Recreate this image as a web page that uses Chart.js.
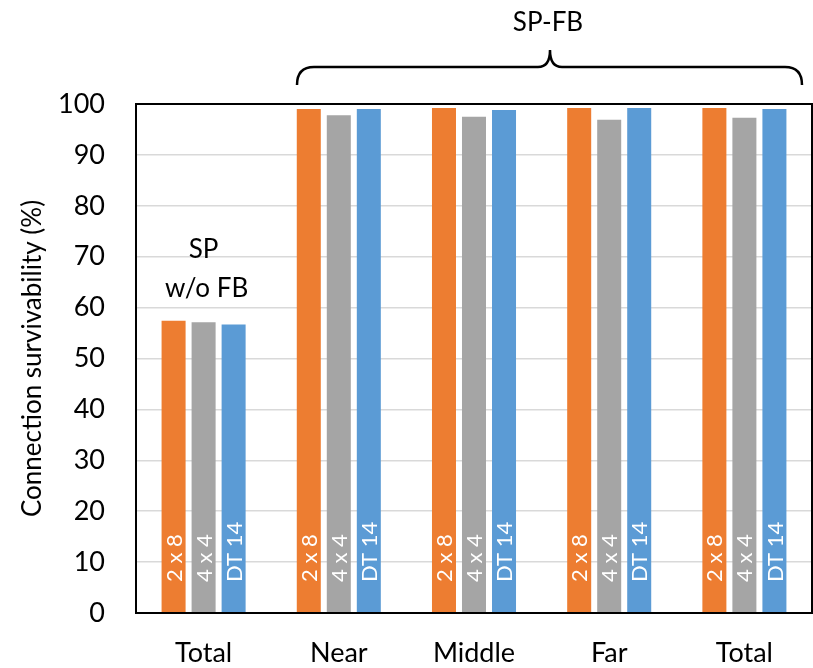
<!DOCTYPE html>
<html lang="en">
<head>
<meta charset="UTF-8">
<title>Connection survivability</title>
<script src="https://cdn.jsdelivr.net/npm/chart.js@4"></script>
<style>
    html, body { margin: 0; padding: 0; background: #fff; }
    #wrap { width: 813px; height: 668px; }
</style>
</head>
<body>
<div id="wrap"><canvas id="chart"></canvas></div>
<script>
// Data
const categories = ['Total', 'Near', 'Middle', 'Far', 'Total'];
const seriesNames = ['2 x 8', '4 x 4', 'DT 14'];
const values2x8 = [57.4, 99.0, 99.2, 99.2, 99.2];
const values4x4 = [57.1, 97.8, 97.5, 96.9, 97.3];
const valuesDT14 = [56.7, 99.0, 98.8, 99.2, 99.0];
const yTicks = [0, 10, 20, 30, 40, 50, 60, 70, 80, 90, 100];

const colors = ['#ED7D31', '#A5A5A5', '#5B9BD5'];
const FONT = 'Lato';

// frame around the plot, labels inside bars, group annotations
const decorations = {
    id: 'decorations',
    afterDatasetsDraw(chart) {
        const ctx = chart.ctx;
        const area = chart.chartArea;

        // series names written up the bars
        ctx.save();
        ctx.fillStyle = '#fff';
        ctx.font = '22px ' + FONT;
        ctx.textAlign = 'left';
        ctx.textBaseline = 'middle';
        chart.data.datasets.forEach((ds, i) => {
            chart.getDatasetMeta(i).data.forEach(bar => {
                ctx.save();
                ctx.translate(bar.x + 1, area.bottom - 31);
                ctx.rotate(-Math.PI / 2);
                ctx.fillText(ds.label, 0, 0);
                ctx.restore();
            });
        });
        ctx.restore();
    },
    afterDraw(chart) {
        const ctx = chart.ctx;
        const area = chart.chartArea;
        const x = chart.scales.x;

        ctx.save();
        ctx.strokeStyle = '#000';
        ctx.lineWidth = 2;
        ctx.strokeRect(area.left, area.top, area.right - area.left, area.bottom - area.top);

        ctx.fillStyle = '#000';
        ctx.font = '26px ' + FONT;
        ctx.textAlign = 'center';
        ctx.textBaseline = 'alphabetic';

        // "SP w/o FB" over the first group
        const c0 = x.getPixelForValue(0);
        ctx.fillText('SP', c0, 258);
        ctx.fillText('w/o FB', c0 + 3, 297);

        // brace over the SP-FB groups
        const l = 297, r = 802, tip = 550;
        const yEnd = 85, yLine = 67, yTip = 50;
        ctx.lineWidth = 2.5;
        ctx.beginPath();
        ctx.moveTo(l, yEnd);
        ctx.quadraticCurveTo(l, yLine, l + 17, yLine);
        ctx.lineTo(tip - 12, yLine);
        ctx.quadraticCurveTo(tip, yLine, tip, yTip);
        ctx.quadraticCurveTo(tip, yLine, tip + 12, yLine);
        ctx.lineTo(r - 17, yLine);
        ctx.quadraticCurveTo(r, yLine, r, yEnd);
        ctx.stroke();
        ctx.fillText('SP-FB', tip - 2, 31);
        ctx.restore();
    }
};

new Chart(document.getElementById('chart'), {
    type: 'bar',
    data: {
        labels: categories,
        datasets: [
            { label: seriesNames[0], data: values2x8, backgroundColor: colors[0] },
            { label: seriesNames[1], data: values4x4, backgroundColor: colors[1] },
            { label: seriesNames[2], data: valuesDT14, backgroundColor: colors[2] }
        ]
    },
    options: {
        responsive: true,
        maintainAspectRatio: false,
        animation: false,
        categoryPercentage: 0.666,
        barPercentage: 0.8,
        layout: { padding: { top: 104, right: 1, left: 0, bottom: 0 } },
        plugins: {
            legend: { display: false },
            tooltip: { enabled: false }
        },
        scales: {
            x: {
                afterFit(scale) { scale.height = 55; },
                grid: { display: false, drawTicks: false },
                border: { display: true, color: '#000', width: 2 },
                ticks: { color: '#000', font: { family: FONT, size: 27 }, padding: 24, maxRotation: 0 }
            },
            y: {
                min: 0,
                max: 100,
                afterFit(scale) { scale.width = 136; },
                afterBuildTicks(scale) { scale.ticks = yTicks.map(v => ({ value: v })); },
                grid: { color: '#D9D9D9', lineWidth: 1.5, drawTicks: false },
                border: { display: true, color: '#000', width: 2 },
                ticks: { color: '#000', font: { family: FONT, size: 27 }, padding: 31 },
                title: {
                    display: true,
                    text: 'Connection survivability (%)',
                    color: '#000',
                    font: { family: FONT, size: 26 },
                    padding: { top: 17, bottom: 11 }
                }
            }
        }
    },
    plugins: [decorations]
});
</script>
</body>
</html>
